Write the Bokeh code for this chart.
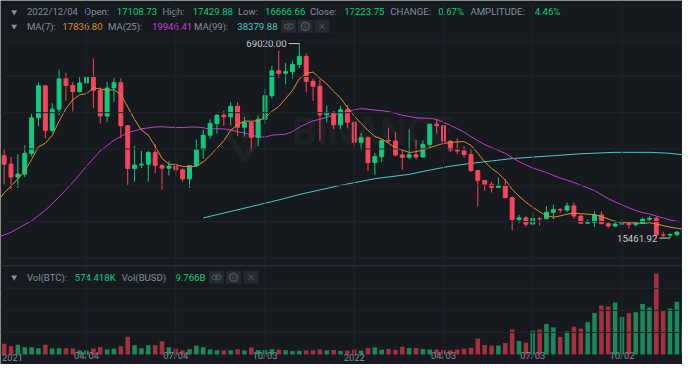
import numpy as np
from bokeh.plotting import figure
from bokeh.models import ColumnDataSource, Range1d, Span
from bokeh.core.properties import value
from bokeh.embed import file_html
from bokeh.resources import INLINE

# ---------------- data (weekly BTC/BUSD, week 0 = 2021-01-03) ----------------
tick_weeks = [0, 13, 26, 39, 52, 65, 78, 91]
tick_labels = ["2021", "04/04", "07/04", "10/03", "2022", "04/03", "07/03", "10/02"]

opens = [33000, 38150, 35828, 32259, 33092, 38795, 48577, 57408, 45135, 50971,
         59302, 57523, 55820, 58200, 59800, 56150, 49066, 56800, 58232, 46426,
         34655, 35600, 35800, 39000, 35500, 34700, 35280, 34250, 31780, 35400,
         39850, 43800, 47050, 49300, 48850, 51750, 46000, 47260, 43200, 48200,
         54660, 61530, 60850, 61300, 63300, 65500, 58620, 57270, 49400, 50100,
         46680, 50800, 47350, 41850, 43100, 36270, 37900, 42400, 42200, 38350,
         37700, 38400, 37800, 41260, 46820, 46410, 42150, 39700, 39450, 38470,
         34060, 31300, 30290, 29450, 29900, 26580, 20550, 21030, 19300, 20830,
         20790, 22580, 23300, 23180, 24310, 21520, 19560, 19800, 21830, 19420,
         18800, 19310, 19420, 19190, 19570, 20630, 20900, 16330, 16280, 16450,
         17108.73]
highs = [41950, 40100, 37850, 38531, 40955, 49707, 58352, 57533, 52640, 61844,
         60999, 58400, 59800, 61200, 64854, 57000, 58458, 59600, 59500, 46600,
         40841, 39476, 39500, 41330, 35700, 36600, 35950, 34600, 35450, 42600,
         45300, 48150, 49500, 50500, 52920, 52900, 48800, 47350, 49230, 56560,
         62900, 67000, 63700, 64300, 69020, 66300, 59400, 59100, 51950, 50500,
         51900, 52100, 47550, 44450, 43500, 38900, 42600, 45850, 44750, 40000,
         45400, 42600, 42400, 47000, 48200, 47450, 42450, 42980, 40800, 40020,
         34240, 31400, 30950, 32200, 31700, 26900, 21900, 21550, 22500, 21200,
         24280, 24670, 23650, 25200, 25200, 21900, 20580, 22800, 22800, 19960,
         20380, 20480, 19520, 19700, 21080, 21480, 21450, 17190, 16800, 17420,
         17429.88]
lows = [28130, 30300, 28850, 29241, 32296, 37988, 46200, 43000, 44500, 49274,
        53271, 50313, 55500, 55473, 51300, 47000, 47500, 53000, 43000, 30000,
        31000, 34800, 31000, 33400, 28800, 32700, 32700, 31000, 29278, 35000,
        37300, 42800, 44200, 46400, 46500, 43500, 43400, 39600, 40750, 46900,
        53900, 59500, 57800, 59400, 62300, 55600, 53256, 42300, 47300, 45500,
        45500, 45700, 40600, 39650, 33900, 32900, 36250, 41700, 38000, 34300,
        37200, 37150, 37600, 40500, 44200, 42100, 39200, 38540, 37700, 33700,
        24200, 28630, 28000, 29300, 26560, 17600, 19600, 18600, 18950, 18900,
        20750, 20700, 22400, 22670, 20780, 19520, 19550, 18500, 19320, 18120,
        18470, 19150, 18190, 18650, 19250, 20030, 15590, 15800, 15461.92, 16000,
        16666.66]
closes = [38150, 35828, 32259, 33092, 38795, 48577, 57408, 45135, 50971, 59302,
          57523, 55820, 58200, 59800, 56150, 49066, 56800, 58232, 46426, 34655,
          35600, 35800, 39000, 35500, 34700, 35280, 34250, 31780, 35400, 39850,
          43800, 47050, 49300, 48850, 51750, 46000, 47260, 43200, 48200, 54660,
          61530, 60850, 61300, 63300, 65500, 58620, 57270, 49400, 50100, 46680,
          50800, 47350, 41850, 43100, 36270, 37900, 42400, 42200, 38350, 37700,
          38400, 37800, 41260, 46820, 46410, 42150, 39700, 39450, 38470, 34060,
          31300, 30290, 29450, 29900, 26580, 20550, 21030, 19300, 20830, 20790,
          22580, 23300, 23180, 24310, 21520, 19560, 19800, 21830, 19420, 18800,
          19310, 19420, 19190, 19570, 20630, 20900, 16330, 16280, 16450, 17110,
          17223.75]
volume_k = [174, 195, 148, 177, 130, 130, 113, 177, 108, 113,
            113, 108, 73, 73, 108, 136, 90, 108, 148, 322,
            165, 113, 165, 165, 235, 130, 108, 78, 96, 160,
            130, 90, 78, 73, 78, 96, 73, 125, 78, 78,
            96, 87, 78, 61, 66, 73, 73, 90, 73, 80,
            63, 70, 87, 70, 117, 127, 87, 99, 82, 139,
            117, 117, 99, 92, 87, 82, 75, 87, 104, 122,
            291, 169, 162, 162, 209, 452, 244, 214, 435, 452,
            552, 492, 318, 418, 505, 470, 586, 753, 887, 870,
            945, 679, 748, 766, 917, 853, 1467, 800, 835, 957,
            574.418]
ma7 = [25401, 27920, 29792, 31781, 33915, 37100, 40587, 41585, 43748, 47611,
       51102, 53534, 54908, 55250, 56824, 56552, 56194, 56295, 54953, 51590,
       48133, 45226, 43788, 40745, 37383, 35791, 35733, 35187, 35130, 35251,
       36437, 38201, 40204, 42290, 45143, 46657, 47716, 47630, 47794, 48560,
       50371, 51671, 53857, 56149, 59334, 60823, 61196, 59463, 57927, 55839,
       54053, 51460, 49064, 47040, 45164, 43421, 42810, 41581, 40296, 39703,
       39031, 39250, 39730, 40361, 40963, 41506, 41791, 41941, 42037, 41009,
       38791, 36489, 34674, 33274, 31436, 28876, 27014, 25300, 23949, 22711,
       21666, 21197, 21573, 22041, 22359, 22177, 22036, 21929, 21374, 20749,
       20034, 19734, 19681, 19649, 19477, 19689, 19336, 18903, 18479, 18181,
       17836.80]
ma25_weeks = [0, 2, 5, 7, 9, 11, 13, 15, 17, 19, 21, 23] + list(range(24, 101))
ma25 = [15600, 17050, 20220, 23120, 26800, 30770, 35250, 39475, 42380, 44490, 45540, 46070,
        46112, 45997, 45934, 45914, 46007, 46049, 45858, 45444, 45610, 45525,
        45223, 44762, 44420, 43820, 43356, 43296, 43795, 43957, 44080, 44755,
        45988, 46909, 47768, 48184, 48768, 49247, 49868, 50392, 50795, 51103,
        50960, 50724, 50538, 50254, 49834, 49272, 48968, 48589, 48512, 48456,
        48126, 47351, 46505, 45631, 44638, 43380, 42288, 41208, 40410, 39602,
        38798, 37588, 36536, 35634, 34743, 34124, 33511, 32747, 31986, 31424,
        30777, 30024, 29304, 28526, 27430, 26326, 25412, 24601, 23791, 23035,
        22498, 22082, 21523, 20996, 20458, 20080, 19946.41]
ma99_weeks = [30, 35, 40, 45, 50, 55, 60, 63, 66, 69, 72, 75, 78, 81, 85, 90, 95, 98, 100]
ma99 = [21008, 23250, 25500, 27900, 29980, 31820, 33010, 34200, 35250, 36045,
        36700, 37360, 37760, 38150, 38680, 39080, 39080, 38810, 38379.88]
header_date = "2022/12/04"
vol_busd_b = 9.766

# ---------------- page geometry ----------------
W, H = 682, 364
REF_W, REF_H = 698, 380
PX0, PXW = -3.3, 7.026     # ref px of week 0, ref px per week
PY0, P0, PPP = 45.0, 69020.0, 263.8   # ref px of price P0, $ per ref px
VY0, VPP = 369.5, 17.4     # ref px of zero volume, K BTC per ref px

def rx(X):
    return (X - PX0) / PXW

def ry(Y):
    return P0 - (Y - PY0) * PPP

def rv(Y):
    return (VY0 - Y) * VPP

BG = "#161a1e"
GRID = "#20242a"
UP, DOWN = "#0ecb81", "#f6465d"
UPV, DOWNV = "#198a5c", "#a5303f"
GRAY = "#848e9c"
MA7C, MA25C, MA99C = "#d98f36", "#c43dd1", "#4fc7c2"
FONT = value("Roboto")
FS = value("9.6px")

p = figure(width=W, height=H, output_backend="svg", toolbar_location=None,
           x_axis_type=None, y_axis_type=None, min_border=0,
           x_range=Range1d(rx(0), rx(REF_W)), y_range=Range1d(ry(REF_H), ry(0)))
p.extra_y_ranges = {"vol": Range1d(rv(REF_H), rv(0))}
p.background_fill_color = BG
p.border_fill_color = BG
p.outline_line_color = None

# ---------------- grid ----------------
for w in tick_weeks:
    p.add_layout(Span(location=w, dimension="height", line_color=GRID, line_width=1))
for lvl in [10000, 20000, 30000, 40000, 50000, 60000, 70000]:
    p.add_layout(Span(location=lvl, dimension="width", line_color=GRID, line_width=1))
for lvl in [400, 800, 1200]:
    p.add_layout(Span(location=lvl, dimension="width", line_color=GRID, line_width=1,
                      y_range_name="vol"))
p.add_layout(Span(location=rv(277), dimension="width", line_color="#262a31", line_width=2,
                  y_range_name="vol"))

# ---------------- watermark ----------------
p.text(x=[rx(381)], y=[ry(137)], text=["BINANCE"], text_font=FONT, text_font_style="bold",
       text_font_size=value("38px"), text_align="center", text_baseline="middle",
       text_color="#ffffff", text_alpha=0.035)
p.scatter(x=[rx(250)], y=[ry(142)], marker="diamond", size=46, fill_alpha=0,
          line_color="#ffffff", line_alpha=0.035, line_width=6)
p.scatter(x=[rx(250)], y=[ry(142)], marker="diamond", size=12, fill_color="#ffffff",
          fill_alpha=0.035, line_alpha=0)

# ---------------- candles ----------------
n = len(closes)
weeks = np.arange(n)
o = np.array(opens, float); c = np.array(closes, float)
hi = np.array(highs, float); lo = np.array(lows, float)
inc = c >= o
cols = np.where(inc, UP, DOWN)
vcols = np.where(inc, UPV, DOWNV)
src = ColumnDataSource(dict(x=weeks, o=o, c=c, h=hi, l=lo,
                            top=np.maximum(o, c), bot=np.minimum(o, c),
                            col=cols, vcol=vcols, vol=np.array(volume_k, float)))

p.vbar(x="x", width=0.66, top="vol", bottom=0, fill_color="vcol", line_color=None,
       source=src, y_range_name="vol")

p.line(ma99_weeks, ma99, line_color=MA99C, line_width=1)
p.line(ma25_weeks, ma25, line_color=MA25C, line_width=1)

p.segment(x0="x", y0="l", x1="x", y1="h", line_color="col", line_width=1, source=src)
p.vbar(x="x", width=0.57, top="top", bottom="bot", fill_color="col", line_color="col",
       line_width=1, source=src)

p.line(list(weeks), ma7, line_color=MA7C, line_width=1)

# ---------------- high / low markers ----------------
ih = int(np.argmax(hi)); il = int(np.argmin(lo))
mark_col = "#c9ced6"
p.segment(x0=[ih - 11 / PXW, il - 11 / PXW], y0=[hi[ih], lo[il]],
          x1=[ih, il], y1=[hi[ih], lo[il]], line_color=mark_col, line_width=1)
p.text(x=[ih - 13 / PXW, il - 13 / PXW], y=[hi[ih], lo[il]],
       text=[f"{hi[ih]:.2f}", f"{lo[il]:.2f}"], text_font=FONT,
       text_font_size=FS, text_align="right", text_baseline="middle",
       text_color=mark_col)

# ---------------- header texts ----------------
chg = (c[-1] - o[-1]) / o[-1] * 100
amp = (hi[-1] - lo[-1]) / o[-1] * 100
segs = [
    (header_date, 27, 12, GRAY), ("Open:", 86, 12, GRAY), (f"{o[-1]:.2f}", 119, 12, UP),
    ("High:", 165.7, 12, GRAY), (f"{hi[-1]:.2f}", 196.7, 12, UP),
    ("Low:", 243, 12, GRAY), (f"{lo[-1]:.2f}", 270.7, 12, UP),
    ("Close:", 316.7, 12, GRAY), (f"{c[-1]:.2f}", 351.7, 12, UP),
    ("CHANGE:", 399, 12, GRAY), (f"{chg:.2f}%", 448, 12, UP),
    ("AMPLITUDE:", 481, 12, GRAY), (f"{amp:.2f}%", 546.7, 12, UP),
    ("MA(7):", 27, 27, GRAY), (f"{ma7[-1]:.2f}", 63.3, 27, MA7C),
    ("MA(25):", 110, 27, GRAY), (f"{ma25[-1]:.2f}", 155, 27, MA25C),
    ("MA(99):", 198, 27, GRAY), (f"{ma99[-1]:.2f}", 242.3, 27, MA99C),
    ("Vol(BTC):", 27, 289, GRAY), (f"{volume_k[-1]:.3f}K", 76, 289, UP),
    ("Vol(BUSD)", 124, 289, GRAY), (f"{vol_busd_b:.3f}B", 179, 289, UP),
]
hsrc = ColumnDataSource(dict(x=[rx(s[1]) for s in segs], y=[ry(s[2]) for s in segs],
                             text=[s[0] for s in segs], color=[s[3] for s in segs]))
p.text(x="x", y="y", text="text", text_color="color", source=hsrc, text_font=FONT,
       text_font_size=FS, text_align="left", text_baseline="middle")

# collapse triangles
p.scatter(x=[rx(14)] * 3, y=[ry(12), ry(27), ry(289)], marker="inverted_triangle",
          size=6, fill_color=GRAY, line_color=None)

# icon boxes (eye, settings, close)
box_x = [295, 312, 329, 221, 238.5, 256.5]
box_y = [27, 27, 27, 289, 289, 289]
p.rect(x=[rx(v) for v in box_x], y=[ry(v) for v in box_y], width=15, height=13,
       width_units="screen", height_units="screen", fill_color="#252930", line_color=None)
ICON = "#4a515b"
for k in (0, 3):
    p.ellipse(x=[rx(box_x[k])], y=[ry(box_y[k])], width=9, height=5, width_units="screen",
              height_units="screen", fill_alpha=0, line_color=ICON, line_width=1.2)
    p.scatter(x=[rx(box_x[k])], y=[ry(box_y[k])], marker="circle", size=3,
              fill_color=ICON, line_color=None)
    p.scatter(x=[rx(box_x[k + 1])], y=[ry(box_y[k + 1])], marker="circle", size=8,
              fill_alpha=0, line_color=ICON, line_width=1.6)
    p.scatter(x=[rx(box_x[k + 1])], y=[ry(box_y[k + 1])], marker="circle", size=3,
              fill_alpha=0, line_color=ICON, line_width=1)
    p.scatter(x=[rx(box_x[k + 2])], y=[ry(box_y[k + 2])], marker="x", size=7,
              line_color=ICON, line_width=1.2)

# ---------------- time axis (bottom) ----------------
p.segment(x0=tick_weeks[1:], y0=[rv(369.5)] * (len(tick_weeks) - 1), x1=tick_weeks[1:],
          y1=[rv(371.5)] * (len(tick_weeks) - 1), line_color="#5e6673", line_width=1,
          y_range_name="vol")
lab_x = [rx(1.5)] + tick_weeks[1:]
lab_align = ["left"] + ["center"] * (len(tick_weeks) - 1)
tsrc = ColumnDataSource(dict(x=lab_x, y=[rv(376.5)] * len(tick_weeks), text=tick_labels,
                             align=lab_align))
p.text(x="x", y="y", text="text", text_align="align", source=tsrc, text_font=FONT,
       text_font_size=value("9.4px"), text_baseline="bottom",
       text_color=GRAY, y_range_name="vol")

open("out.html", "w").write(file_html(p, INLINE))
